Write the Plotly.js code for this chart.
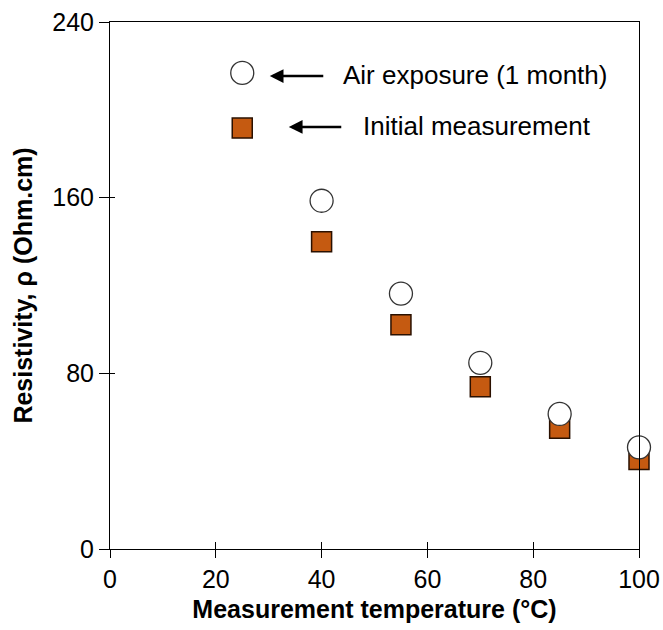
<!DOCTYPE html>
<html>
<head>
<meta charset="utf-8">
<script src="https://cdn.plot.ly/plotly-3.0.1.min.js"></script>
<style>html,body{margin:0;padding:0;background:#fff;}#chart{width:663px;height:630px;}</style>
</head>
<body>
<div id="chart"></div>
<script>
var temperatures = [25, 40, 55, 70, 85, 100];
var airExposure = [216.8, 158.6, 116.3, 84.8, 61.5, 46.3];
var initialMeasurement = [191.7, 139.9, 102.1, 73.9, 55.0, 40.8];
var seriesNames = ["Air exposure (1 month)", "Initial measurement"];
var xTicks = [0, 20, 40, 60, 80, 100];
var yTicks = [0, 80, 160, 240];

var FONT = "Liberation Sans, Arial, sans-serif";

var traces = [
  {
    x: temperatures, y: initialMeasurement, type: "scatter", mode: "markers",
    name: seriesNames[1], cliponaxis: false,
    marker: {symbol: "square", size: 20, color: "#C55A11", line: {color: "#2a1000", width: 1.5}}
  },
  {
    x: temperatures, y: airExposure, type: "scatter", mode: "markers",
    name: seriesNames[0], cliponaxis: false,
    marker: {symbol: "circle", size: 23, color: "#ffffff", line: {color: "#333333", width: 1.3}}
  }
];

var axisCommon = {
  showgrid: false, zeroline: false, showline: true, linecolor: "#000", linewidth: 1,
  tickcolor: "#000", tickwidth: 1
};

var layout = {
  width: 663, height: 630,
  margin: {l: 110, r: 24, t: 22, b: 81},
  paper_bgcolor: "#fff", plot_bgcolor: "#fff",
  showlegend: false,
  font: {family: FONT, color: "#000"},
  xaxis: Object.assign({}, axisCommon, {
    range: [0, 100], tickvals: xTicks, ticktext: xTicks.map(String),
    ticks: "outside", ticklen: 8, mirror: true,
    tickfont: {size: 25, family: FONT},
    title: {text: "<b>Measurement temperature (°C)</b>", font: {size: 25, family: FONT}, standoff: 8}
  }),
  yaxis: Object.assign({}, axisCommon, {
    range: [0, 240], tickvals: yTicks, ticktext: yTicks.map(String),
    ticks: "outside", ticklen: 10, mirror: true,
    tickfont: {size: 25, family: FONT},
    title: {text: "<b>Resistivity, ρ (Ohm.cm)</b>", font: {size: 25, family: FONT}, standoff: 12}
  }),
  xaxis2: {overlaying: "x", range: [0, 100], tickvals: xTicks, showticklabels: false,
    ticks: "inside", ticklen: 7, tickcolor: "#000", showgrid: false, zeroline: false, showline: false},
  yaxis2: {overlaying: "y", range: [0, 240], tickvals: yTicks, showticklabels: false,
    ticks: "inside", ticklen: 5, tickcolor: "#000", showgrid: false, zeroline: false, showline: false},
  annotations: [
    {x: 30.2, y: 215.4, ax: 40.6, ay: 215.4, axref: "x", ayref: "y", xref: "x", yref: "y",
      text: "", showarrow: true, arrowhead: 2, arrowsize: 1.1, arrowwidth: 2.5, arrowcolor: "#000"},
    {x: 33.8, y: 192.2, ax: 44.0, ay: 192.2, axref: "x", ayref: "y", xref: "x", yref: "y",
      text: "", showarrow: true, arrowhead: 2, arrowsize: 1.1, arrowwidth: 2.5, arrowcolor: "#000"},
    {x: 43.6, y: 216.0, xref: "x", yref: "y", xanchor: "left", yanchor: "middle",
      text: seriesNames[0], showarrow: false, font: {size: 26, family: FONT, color: "#000"}},
    {x: 47.4, y: 192.5, xref: "x", yref: "y", xanchor: "left", yanchor: "middle",
      text: seriesNames[1], showarrow: false, font: {size: 26, family: FONT, color: "#000"}}
  ]
};

// invisible trace to activate overlay tick axes
traces.push({x: [temperatures[0]], y: [airExposure[0]], xaxis: "x2", yaxis: "y2", type: "scatter",
  mode: "markers", marker: {opacity: 0}, hoverinfo: "skip", showlegend: false});

Plotly.newPlot("chart", traces, layout, {staticPlot: true});
</script>
</body>
</html>
